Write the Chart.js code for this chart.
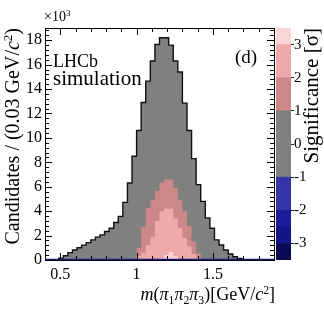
<!DOCTYPE html>
<html>
<head>
<meta charset="utf-8">
<script src="https://cdn.jsdelivr.net/npm/chart.js@4.4.0/dist/chart.umd.min.js"></script>
<style>
  html, body { margin: 0; padding: 0; background: #fff; }
  #wrap { position: relative; width: 324px; height: 313px; overflow: hidden; font-family: 'Liberation Serif', serif; color: #000; }
  canvas { position: absolute; top: 0; }
  #main { left: 0; width: 324px; height: 313px; }
  #cbar { left: 270px; width: 54px; height: 313px; }
  .lbl { position: absolute; white-space: nowrap; line-height: 1; }
  .up { position: relative; font-size: 0.65em; top: -0.55em; }
  .dn { position: relative; font-size: 0.65em; top: 0.3em; }
</style>
</head>
<body>
<div id="wrap">
  <canvas id="main" width="324" height="313"></canvas>
  <canvas id="cbar" width="54" height="313"></canvas>
  <div class="lbl" style="left:44px; top:10px; font-size:14px;">×10<span class="up">3</span></div>
  <div class="lbl" style="left:53px; top:52px; font-size:18px;">LHCb</div>
  <div class="lbl" style="left:53px; top:68px; font-size:21px;">simulation</div>
  <div class="lbl" style="left:235px; top:47px; font-size:19px;">(d)</div>
  <div class="lbl" style="left:2px; top:288px; width:260px; text-align:right; font-size:20px; transform-origin:0 0; transform:rotate(-90deg);">Candidates / (0.03 GeV/<i>c</i><span class="up">2</span>)</div>
  <div class="lbl" style="right:49px; top:285px; font-size:18px;"><i>m</i>(<i>π</i><span class="dn">1</span><i>π</i><span class="dn">2</span><i>π</i><span class="dn">3</span>)[GeV/<i>c</i><span class="up">2</span>]</div>
  <div class="lbl" style="left:301px; top:288px; width:260px; text-align:right; font-size:21px; transform-origin:0 0; transform:rotate(-90deg);">Significance [σ]</div>
</div>
<script>
'use strict';

// histogram bins, 0.03 GeV wide
const binEdges = [0.49, 0.52, 0.55, 0.58, 0.61, 0.64, 0.67, 0.70, 0.73, 0.76,
  0.79, 0.82, 0.85, 0.88, 0.91, 0.94, 0.97, 1.00, 1.03, 1.06,
  1.09, 1.12, 1.15, 1.18, 1.21, 1.24, 1.27, 1.30, 1.33, 1.36,
  1.39, 1.42, 1.45, 1.48, 1.51, 1.54, 1.57, 1.60, 1.63, 1.66, 1.69];

// candidates per bin (x10^3)
const totalCounts = [0.15, 0.35, 0.6, 0.82, 1.0, 1.22, 1.42, 1.65, 1.87, 2.06,
  2.33, 2.6, 3.07, 3.57, 4.72, 6.3, 8.5, 10.6, 12.9, 14.65,
  16.3, 17.65, 18.2, 18.2, 17.6, 16.3, 15.4, 12.85, 10.6, 8.3,
  6.17, 4.8, 3.45, 2.6, 1.65, 1.23, 0.82, 0.49, 0.27, 0.12];
// part of each bin above 1 sigma
const sig1Counts = [0, 0, 0, 0, 0, 0, 0, 0, 0, 0,
  0, 0, 0, 0, 0, 0, 0, 1.0, 2.7, 4.25,
  4.9, 5.65, 6.35, 6.6, 6.6, 5.9, 4.9, 4.0, 2.8, 1.5,
  0.55, 0, 0, 0, 0, 0, 0, 0, 0, 0];
// above 2 sigma
const sig2Counts = [0, 0, 0, 0, 0, 0, 0, 0, 0, 0,
  0, 0, 0, 0, 0, 0, 0, 0.3, 0.6, 1.2,
  1.9, 3.2, 4.0, 4.2, 4.2, 3.4, 2.6, 1.8, 1.1, 0.5,
  0.15, 0, 0, 0, 0, 0, 0, 0, 0, 0];
// above 3 sigma
const sig3Counts = [0, 0, 0, 0, 0, 0, 0, 0, 0, 0,
  0, 0, 0, 0, 0, 0, 0, 0, 0, 0,
  0, 0, 0.15, 0.4, 0.65, 0.3, 0, 0, 0, 0,
  0, 0, 0, 0, 0, 0, 0, 0, 0, 0];

const xTicks = [0.5, 1, 1.5];
const yTicks = [0, 2, 4, 6, 8, 10, 12, 14, 16, 18];

// colour scale
const sigBandLow = [-3.5, -3, -2.5, -2, -1, 1, 2, 3];
const sigBandHigh = [-3, -2.5, -2, -1, 1, 2, 3, 3.5];
const sigBandColor = ['#0b0b55', '#15158a', '#1c1c98', '#3535a8', '#808080', '#cc8888', '#eeaaaa', '#fad5d5'];
const sigTicks = [-3, -2, -1, 0, 1, 2, 3];

Chart.defaults.font.family = "'Liberation Serif', serif";
Chart.defaults.color = '#000';

//outline of a histogram as straight segments
function histPoints(vals) {
  let pts = [{ x: binEdges[0], y: 0 }];
  for (let i = 0; i < vals.length; i++) {
    pts.push({ x: binEdges[i], y: vals[i] });
    pts.push({ x: binEdges[i + 1], y: vals[i] });
  }
  pts.push({ x: binEdges[vals.length], y: 0 });
  return pts;
}

function histSet(vals, fillColor, lineColor, lineWidth) {
  return {
    data: histPoints(vals),
    fill: 'origin',
    backgroundColor: fillColor,
    borderColor: lineColor,
    borderWidth: lineWidth,
    pointRadius: 0,
    tension: 0
  };
}

function fixedTicks(list) {
  return s => { s.ticks = list.map(v => ({ value: v })); };
}

// frame and root-style inward ticks
const frameTicks = {
  id: 'frameTicks',
  afterDatasetsDraw(chart) {
    const { ctx, chartArea: a, scales: { x, y } } = chart;
    ctx.save();
    ctx.strokeStyle = '#000';
    ctx.lineWidth = 1;
    ctx.beginPath();
    for (let k = 4; k <= 19; k++) {
      const v = k / 10;
      const len = xTicks.some(t => Math.abs(t - v) < 1e-6) ? 7 : 4;
      const px = Math.round(x.getPixelForValue(v)) + 0.5;
      ctx.moveTo(px, a.bottom); ctx.lineTo(px, a.bottom - len);
      ctx.moveTo(px, a.top); ctx.lineTo(px, a.top + len);
    }
    for (let k = 0; k * 0.4 <= 19; k++) {
      const v = k * 0.4;
      const len = yTicks.some(t => Math.abs(t - v) < 1e-6) ? 7 : 4;
      const py = Math.round(y.getPixelForValue(v)) + 0.5;
      ctx.moveTo(a.left, py); ctx.lineTo(a.left + len, py);
      ctx.moveTo(a.right, py); ctx.lineTo(a.right - len, py);
    }
    ctx.stroke();
    ctx.strokeRect(Math.round(a.left) + 0.5, Math.round(a.top) + 0.5,
      Math.round(a.right - a.left), Math.round(a.bottom - a.top));
    ctx.strokeStyle = '#1b1b6a';
    ctx.lineWidth = 1.5;
    ctx.beginPath();
    ctx.moveTo(a.left, a.bottom - 0.5); ctx.lineTo(a.right, a.bottom - 0.5);
    ctx.stroke();
    ctx.restore();
  }
};

new Chart(document.getElementById('main'), {
  type: 'line',
  data: {
    datasets: [
      histSet(sig3Counts, '#fad5d5', 'transparent', 0),
      histSet(sig2Counts, '#eeaaaa', 'transparent', 0),
      histSet(sig1Counts, '#cc8888', 'transparent', 0),
      histSet(totalCounts, '#808080', '#111', 1.4)
    ]
  },
  options: {
    responsive: false,
    animation: false,
    layout: { padding: { top: 28, right: 50, left: 0, bottom: 0 } },
    plugins: { legend: { display: false }, tooltip: { enabled: false } },
    scales: {
      x: {
        type: 'linear', min: 0.4, max: 1.9,
        border: { display: false },
        grid: { display: false, drawTicks: false },
        ticks: {
          padding: 5, maxRotation: 0, autoSkip: false,
          font: { size: 16 },
          callback: v => String(+v.toFixed(2))
        },
        afterBuildTicks: fixedTicks(xTicks),
        afterFit: s => { s.height = 53; }
      },
      y: {
        min: 0, max: 19,
        border: { display: false },
        grid: { display: false, drawTicks: false },
        ticks: { padding: 3, autoSkip: false, font: { size: 16 } },
        afterBuildTicks: fixedTicks(yTicks),
        afterFit: s => { s.width = 45; }
      }
    }
  },
  plugins: [frameTicks]
});

new Chart(document.getElementById('cbar'), {
  type: 'bar',
  data: {
    labels: ['sig'],
    datasets: sigBandColor.map((c, i) => ({
      data: [[sigBandLow[i], sigBandHigh[i]]],
      backgroundColor: c,
      borderWidth: 0,
      barPercentage: 1,
      categoryPercentage: 1,
      grouped: false
    }))
  },
  options: {
    responsive: false,
    animation: false,
    layout: { padding: { top: 28, left: 6, right: 0, bottom: 53 } },
    plugins: { legend: { display: false }, tooltip: { enabled: false } },
    scales: {
      x: { display: false },
      y: {
        position: 'right', min: -3.5, max: 3.5,
        border: { display: false },
        grid: { drawOnChartArea: false, drawTicks: true, tickLength: 3, color: '#222' },
        ticks: { padding: 0, autoSkip: false, font: { size: 15 } },
        afterBuildTicks: fixedTicks(sigTicks),
        afterFit: s => { s.width = 33; }
      }
    }
  }
});
</script>
</body>
</html>
